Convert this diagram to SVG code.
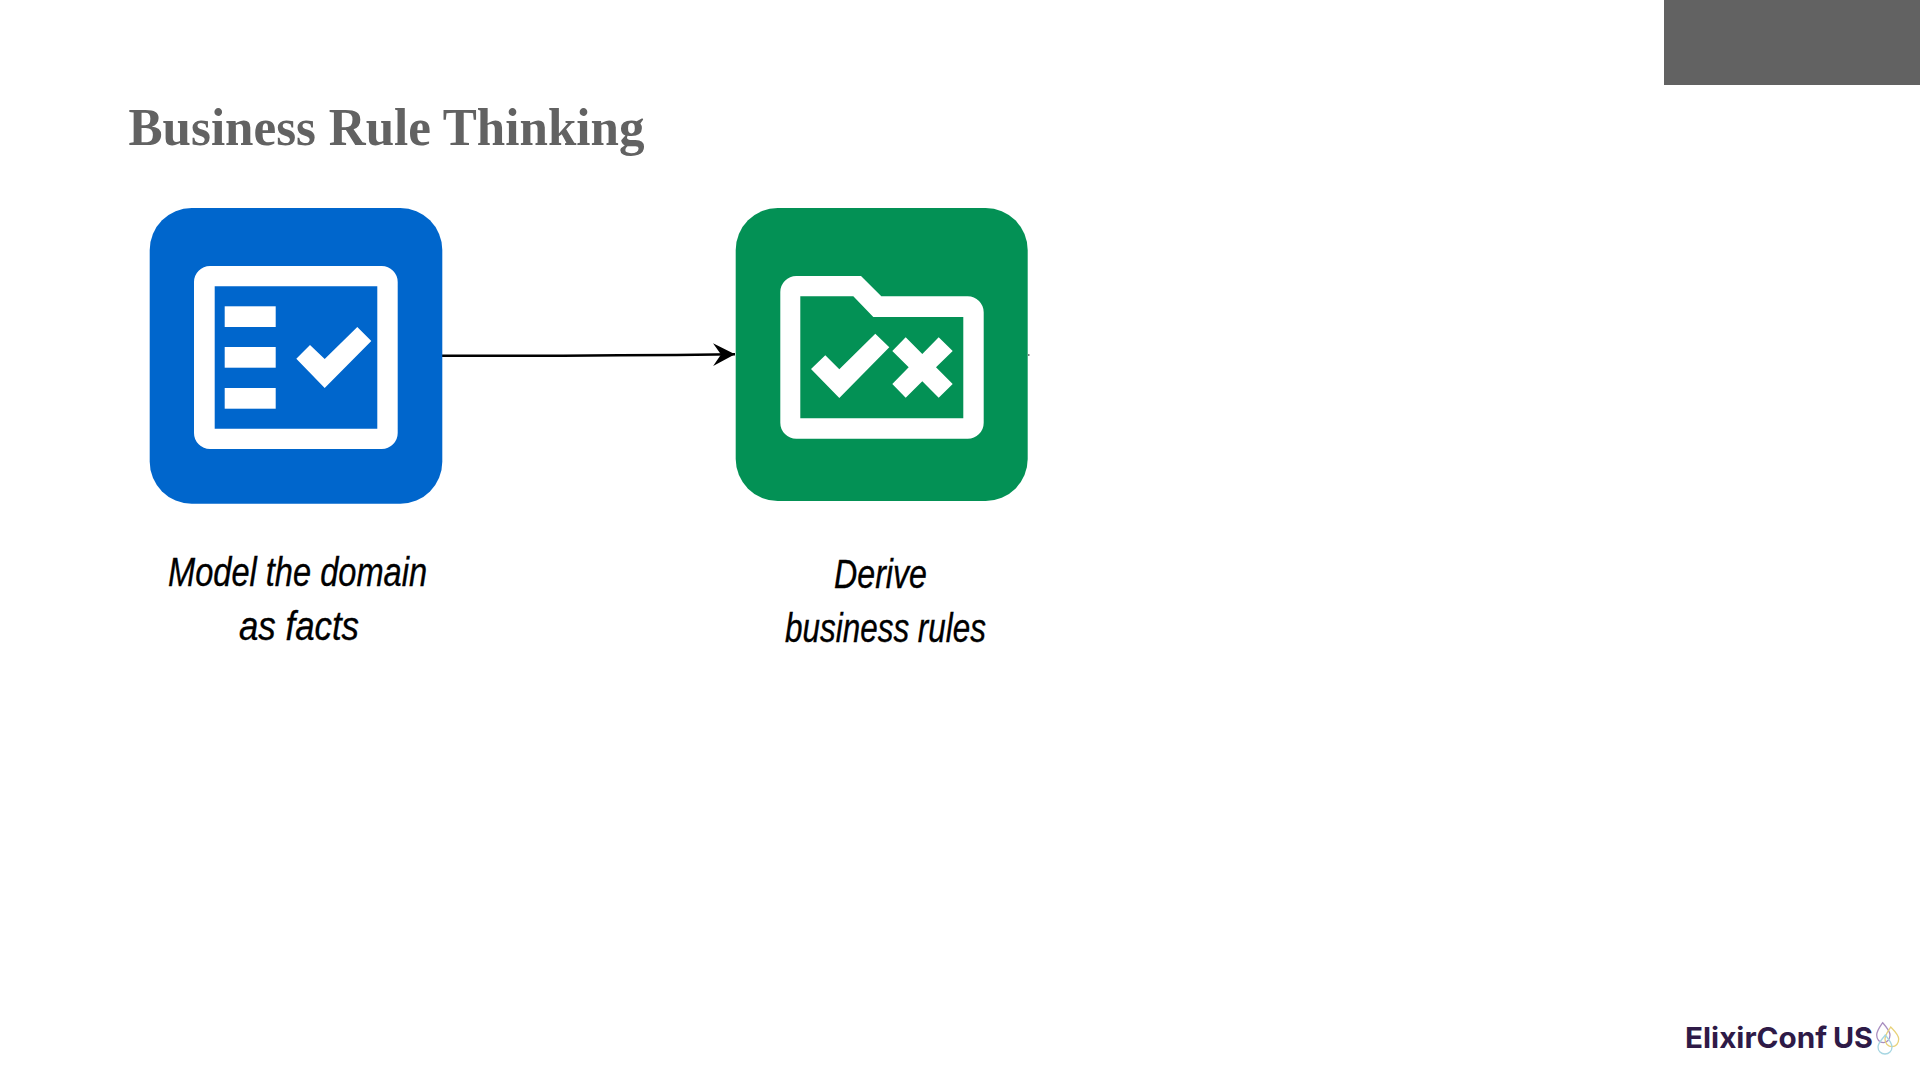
<svg xmlns="http://www.w3.org/2000/svg" width="1920" height="1080" viewBox="0 0 1920 1080">
  <defs>
    <marker id="arrow" markerUnits="userSpaceOnUse" markerWidth="24" markerHeight="26" refX="22" refY="11.5" orient="auto">
      <path d="M0,0 L22,11.5 L0,23 L8,11.5 Z" fill="#000"/>
    </marker>
  </defs>
  <style>
    .title{font-family:"Liberation Serif","DejaVu Serif",serif;font-weight:700;font-size:53px;fill:#626262}
    .hand{font-family:"Liberation Sans","DejaVu Sans",sans-serif;font-style:italic;font-size:41px;fill:#000;stroke:#000;stroke-width:.35}
    .logo{font-family:Inter,"Liberation Sans",sans-serif;font-weight:700;font-size:29px;fill:#2e1a47}
    .ico{fill:#fff;fill-rule:evenodd}
    .link{fill:none;stroke:#000;stroke-width:2.4}
    .drop{fill:none;stroke-width:1.3}
  </style>
  <rect width="1920" height="1080" fill="#fff"/>
  <rect id="corner-block" x="1664" y="0" width="256" height="85" fill="#626262"/>
  <text class="title" x="128.5" y="144.5" textLength="516" lengthAdjust="spacingAndGlyphs">Business Rule Thinking</text>

  <g id="connectors">
    <path class="link" d="M442,355.7 C520,356 600,356 735,354.3" marker-end="url(#arrow)"/>
    <path class="link" d="M1028,355 H1029.5" style="stroke-width:1"/>
  </g>

  <g id="node-facts">
    <rect x="149.7" y="208" width="292.6" height="295.7" rx="42" fill="#0066cc"/>
    <path class="ico" d="M210,266 H381.7 A16,16 0 0 1 397.7,282 V433 A16,16 0 0 1 381.7,449 H210 A16,16 0 0 1 194,433 V282 A16,16 0 0 1 210,266 Z M214.7,286.3 V428.7 H377.3 V286.3 Z"/>
    <rect class="ico" x="224.7" y="306.3" width="51" height="20.7"/>
    <rect class="ico" x="224.7" y="347" width="51" height="20.7"/>
    <rect class="ico" x="224.7" y="388" width="51" height="20.7"/>
    <polygon class="ico" points="296.3,358.7 310,345 324.7,359 357.3,327 371.3,341 324.7,388"/>
    <text class="hand" x="168" y="586" textLength="259" lengthAdjust="spacingAndGlyphs">Model the domain</text>
    <text class="hand" x="239" y="640" textLength="120" lengthAdjust="spacingAndGlyphs">as facts</text>
  </g>

  <g id="node-rules">
    <rect x="735.7" y="208" width="292" height="293" rx="42" fill="#039155"/>
    <path class="ico" d="M796.3,276 H861 L881.3,296.3 H967.7 A16,16 0 0 1 983.7,312.3 V422.7 A16,16 0 0 1 967.7,438.7 H796.3 A16,16 0 0 1 780.3,422.7 V292 A16,16 0 0 1 796.3,276 Z M800.3,296.3 V418.3 H963.3 V317 H873.3 L853.3,296.3 Z"/>
    <polygon class="ico" points="811,369 825.3,355.3 839.3,369.3 875.3,333.7 889.3,347.3 839.3,398"/>
    <polygon class="ico" points="905.7,337.3 922.3,354 938.7,337.3 952.7,351 936,367.3 952.7,384 938.7,397.7 922.3,381.3 905.7,397.7 892.3,384 908.7,367.3 892.3,351"/>
    <text class="hand" x="834" y="588" textLength="93" lengthAdjust="spacingAndGlyphs">Derive</text>
    <text class="hand" x="785" y="642" textLength="201" lengthAdjust="spacingAndGlyphs">business rules</text>
  </g>

  <g id="logo">
    <text class="logo" x="1685" y="1048" textLength="142" lengthAdjust="spacingAndGlyphs">ElixirConf</text>
    <text class="logo" x="1833" y="1048" textLength="40" lengthAdjust="spacingAndGlyphs">US</text>
    <path class="drop" stroke="#a98fc0" d="M1882.7,1022.7 C1879,1028 1876.7,1031 1876.7,1035 C1876.7,1039.5 1879.5,1042.7 1883.3,1042.7 C1887,1042.7 1890,1039.5 1890,1035 C1890,1031 1886.5,1027 1882.7,1022.7 Z"/>
    <path class="drop" stroke="#e8d27a" d="M1890.7,1027 C1887.5,1032 1885,1035 1885,1039 C1885,1043.5 1888,1046.7 1892,1046.7 C1896,1046.7 1898.7,1043.5 1898.7,1039 C1898.7,1035 1894.5,1031 1890.7,1027 Z"/>
    <path class="drop" stroke="#a6d6e2" d="M1885.3,1035 C1881.5,1040 1878,1043 1878,1047 C1878,1051 1881,1054 1885,1054 C1889,1054 1892,1051 1892,1047 C1892,1043 1889,1039.5 1885.3,1035 Z"/>
  </g>
</svg>
